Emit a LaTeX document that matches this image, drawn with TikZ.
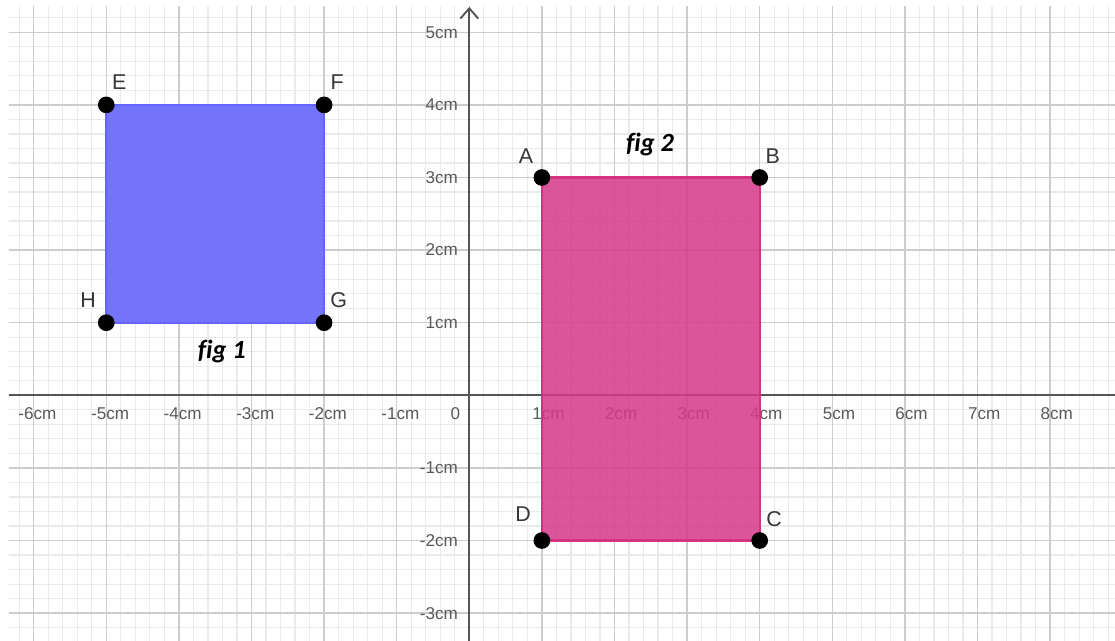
\documentclass[tikz,border=0pt]{standalone}
\usepackage{fontspec}
\newfontfamily\axisfont{Liberation Sans}
\newfontfamily\figfont[Ligatures=NoCommon]{Carlito}
\usetikzlibrary{arrows.meta,calc}
\definecolor{minorgrid}{RGB}{234,234,234}
\definecolor{majorgrid}{RGB}{205,205,205}
\definecolor{axiscol}{RGB}{85,85,85}
\definecolor{ticktext}{RGB}{90,90,90}
\definecolor{ptlabel}{RGB}{55,55,55}
\definecolor{bluefill}{RGB}{116,116,250}
\definecolor{blueedge}{RGB}{100,100,255}
\definecolor{pinkfill}{RGB}{214,58,138}
\definecolor{pinkedge}{RGB}{214,50,130}
\tikzset{
  pt/.style={circle,fill=black,inner sep=0pt,minimum size=0.23cm},
  ptlab/.style={font=\axisfont\fontsize{8.4}{9}\selectfont,text=ptlabel,inner sep=0pt},
  xtick/.style={font=\axisfont\fontsize{6.7}{7}\selectfont,text=ticktext,anchor=base,inner sep=0pt},
  ytick/.style={font=\axisfont\fontsize{6.7}{7}\selectfont,text=ticktext,anchor=east,inner sep=0pt},
  figlab/.style={font=\figfont\bfseries\itshape\fontsize{10.3}{12}\selectfont,text=black,inner sep=0pt},
  poly/.style={line width=0.8pt}
}
\begin{document}
\begin{tikzpicture}
\useasboundingbox (-6.464,-3.384) rectangle (8.894,5.445);
\fill[white] (-6.464,-3.384) rectangle (8.894,5.445);
\begin{scope}
\clip (-6.34,-3.384) rectangle (8.894,5.35);
\draw[minorgrid,line width=0.45pt,step=0.2] (-6.6,-3.6) grid (9.2,5.6);
\draw[majorgrid,line width=0.6pt,step=1] (-7,-4) grid (9.2,5.6);
\end{scope}
% shapes
\coordinate (E) at (-5,4); \coordinate (F) at (-2,4);
\coordinate (G) at (-2,1); \coordinate (H) at (-5,1);
\coordinate (A) at (1,3); \coordinate (B) at (4,3);
\coordinate (C) at (4,-2); \coordinate (D) at (1,-2);
\filldraw[poly,fill=bluefill,fill opacity=1,draw=blueedge] (E) -- (F) -- (G) -- (H) -- cycle;
% axes
\draw[axiscol,line width=0.75pt] (-6.34,0) -- (8.894,0);
\draw[axiscol,line width=0.75pt,-{Straight Barb[length=4pt,width=7pt]}] (0,-3.384) -- (0,5.35);
% tick labels x
\foreach \v in {-6,-5,-4,-3,-2,-1,1,2,3,4,5,6,7,8}{
  \node[xtick] (xl\v) at (\v,-0.33) {\makebox[0pt][r]{\v}\makebox[0pt][l]{cm}};
}
\node[xtick] (x0) at (-0.19,-0.33) {0};
% tick labels y
\foreach \v in {-3,-2,-1,1,2,3,4,5}{
  \node[ytick] (yl\v) at (-0.15,\v) {\v cm};
}
% pink rectangle drawn over axis labels
\filldraw[poly,fill=pinkfill,fill opacity=0.86,draw=pinkedge] (A) -- (B) -- (C) -- (D) -- cycle;
% points
\foreach \p in {A,B,C,D,E,F,G,H}{ \node[pt] (p\p) at (\p) {}; }
\node[ptlab] (lE) at ($(E)+(0.18,0.31)$) {E};
\node[ptlab] (lF) at ($(F)+(0.18,0.31)$) {F};
\node[ptlab] (lG) at ($(G)+(0.2,0.31)$) {G};
\node[ptlab] (lH) at ($(H)+(-0.25,0.31)$) {H};
\node[ptlab] (lA) at ($(A)+(-0.22,0.3)$) {A};
\node[ptlab] (lB) at ($(B)+(0.18,0.3)$) {B};
\node[ptlab] (lC) at ($(C)+(0.2,0.3)$) {C};
\node[ptlab] (lD) at ($(D)+(-0.26,0.37)$) {D};
\node[figlab] (fig1) at (-3.41,0.6) {fig 1};
\node[figlab] (fig2) at (2.49,3.45) {fig 2};
\end{tikzpicture}
\end{document}
